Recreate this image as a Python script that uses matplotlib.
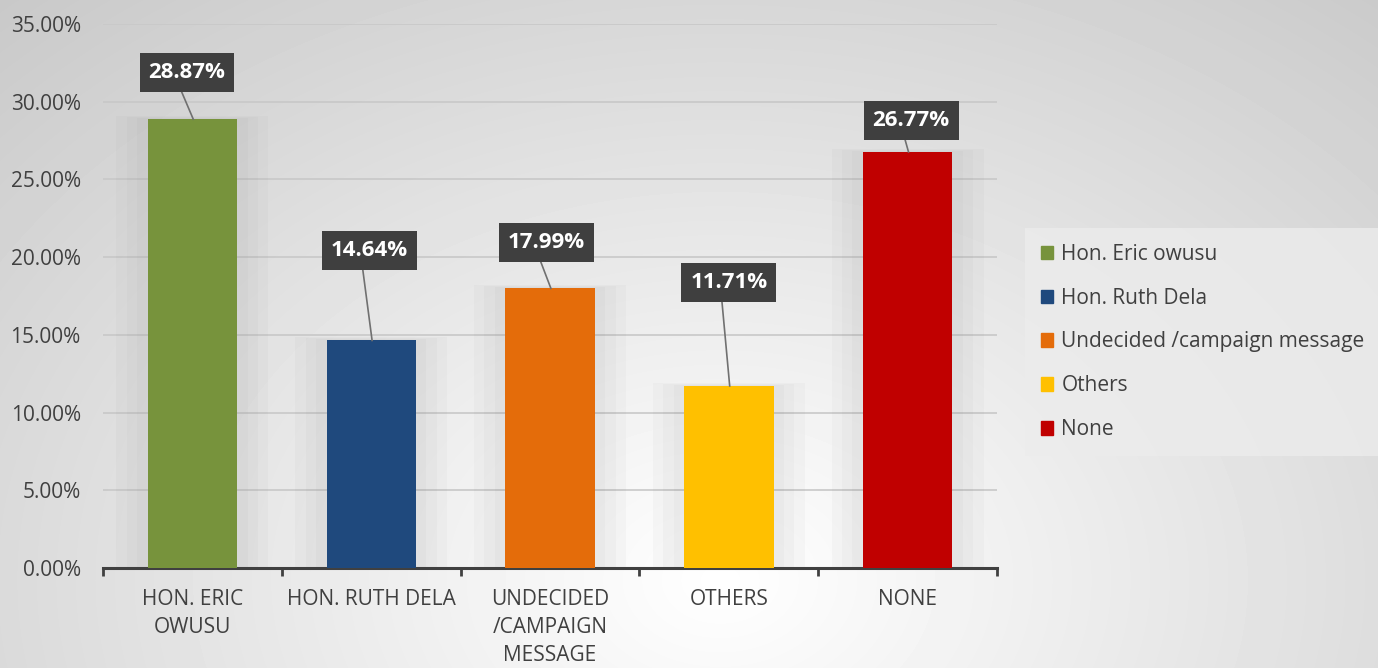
import matplotlib.pyplot as plt
import numpy as np
from matplotlib.patches import Rectangle

plt.rcParams['font.family'] = ['Open Sans', 'DejaVu Sans']

categories = ['HON. ERIC\nOWUSU', 'HON. RUTH DELA', 'UNDECIDED\n/CAMPAIGN\nMESSAGE', 'OTHERS', 'NONE']
series = ['Hon. Eric owusu', 'Hon. Ruth Dela', 'Undecided /campaign message', 'Others', 'None']
values = [28.87, 14.64, 17.99, 11.71, 26.77]
colors = ['#77933C', '#1F497D', '#E46C0A', '#FFC000', '#C00000']
# label box positions (x offset, y in data units)
label_x = [-0.03, -0.01, -0.02, 0.0, 0.02]
label_y = [31.9, 20.45, 20.95, 18.35, 28.8]

fig = plt.figure(figsize=(13.78, 6.68), dpi=100)

# background gradient
bg = fig.add_axes([0, 0, 1, 1], zorder=-10)
yy, xx = np.mgrid[0:668, 0:1378]
r = np.sqrt(((xx - 720) / 950.0) ** 2 + ((yy - 580) / 700.0) ** 2)
shade = 1.0 - 0.19 * np.clip(r, 0, 1.2)
bg.imshow(shade, cmap='gray', vmin=0, vmax=1, aspect='auto', extent=[0, 1, 0, 1])
bg.axis('off')

ax = fig.add_axes([103 / 1378, 1 - 568 / 668, 894 / 1378, 544 / 668])
ax.patch.set_alpha(0)

x = np.arange(len(values))
# soft shadows behind bars
for i, v in enumerate(values):
    for k in range(3):
        pad = 0.065 * (k + 1) * 0.9
        ax.add_patch(Rectangle((i - 0.25 - pad, 0), 0.5 + 2 * pad, v + pad * 1.2,
                               color='#808080', alpha=0.045, lw=0, zorder=1))
ax.bar(x, values, width=0.5, color=colors, zorder=3)

ax.set_xlim(-0.5, 4.5)
ax.set_ylim(0, 35)
ax.set_yticks(np.arange(0, 36, 5))
ax.set_yticklabels(['%.2f%%' % t for t in np.arange(0, 36, 5)], fontsize=15, color='#404040')
ax.yaxis.grid(True, color='#c8c8c8', lw=1.2, zorder=0)
ax.set_axisbelow(True)
ax.tick_params(axis='y', length=0, pad=16)

ax.set_xticks(x)
ax.set_xticklabels(categories, fontsize=15, color='#404040', linespacing=1.45)
ax.set_xticks(np.arange(-0.5, 5, 1), minor=True)
ax.tick_params(axis='x', which='major', length=0, pad=15)
ax.tick_params(axis='x', which='minor', length=6, width=2, color='#404040', direction='out')
for s in ['top', 'right', 'left']:
    ax.spines[s].set_visible(False)
ax.spines['bottom'].set_color('#404040')
ax.spines['bottom'].set_linewidth(2.2)

for i, v in enumerate(values):
    lx = i + label_x[i]
    ax.plot([i + 0.005, lx - 0.04], [v, label_y[i] - 1.0], color='#707070', lw=1.2, zorder=4)
    ax.text(lx, label_y[i], '%.2f%%' % v, ha='center', va='center', fontsize=16,
            fontweight='bold', color='white', zorder=6,
            bbox=dict(boxstyle='square,pad=0.4', fc='#3f3f3f', ec='none'))

handles = [Rectangle((0, 0), 1, 1, color=c) for c in colors]
leg = fig.legend(handles, series, loc='upper left', bbox_to_anchor=(1025 / 1378, 1 - 228 / 668),
                 fontsize=15, frameon=True, fancybox=False, handlelength=0.6, handleheight=0.6,
                 handletextpad=0.4, labelspacing=1.1, borderpad=0.75, borderaxespad=0,
                 labelcolor='#404040')
leg.get_frame().set_facecolor('#ececec')
leg.get_frame().set_edgecolor('none')
leg.get_frame().set_alpha(0.8)

plt.savefig('out.png', dpi=100)
